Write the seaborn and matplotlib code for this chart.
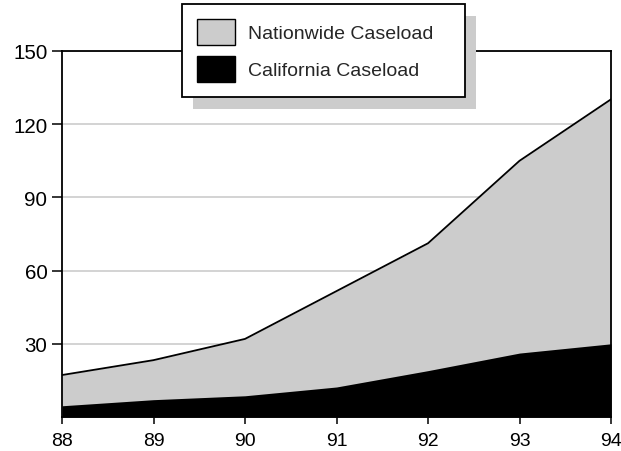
import matplotlib
matplotlib.use("Agg")
import matplotlib.pyplot as plt
from matplotlib.patches import Patch, Rectangle
import seaborn as sns
import pandas as pd

years = [88, 89, 90, 91, 92, 93, 94]
nationwide = [17.2, 23.3, 32.0, 51.6, 71.2, 105.0, 130.2]
california = [4.6, 7.1, 8.7, 12.3, 19.0, 26.2, 30.0]
ytick_values = [30, 60, 90, 120, 150]
series_labels = ["Nationwide Caseload", "California Caseload"]

df = pd.DataFrame({"year": years, "nationwide": nationwide, "california": california})

sns.set_style("white")
plt.rcParams["font.family"] = ["Liberation Sans", "DejaVu Sans"]

fig = plt.figure(figsize=(6.21, 4.52), dpi=100)
ax = fig.add_axes([62 / 621, 1 - 418 / 452, (611 - 62) / 621, (418 - 52) / 452])

ax.fill_between(df["year"], 0, df["nationwide"], color="#cccccc", linewidth=0, zorder=2)
sns.lineplot(data=df, x="year", y="nationwide", color="black", linewidth=1.3, ax=ax, zorder=3)
ax.fill_between(df["year"], 0, df["california"], color="black", linewidth=0, zorder=4)

ax.set_xlim(88, 94)
ax.set_ylim(0, 150)
ax.set_xticks(years)
ax.set_xticklabels([str(y) for y in years])
ax.set_yticks(ytick_values)
ax.set_yticklabels([str(v) for v in ytick_values])
ax.set_xlabel("")
ax.set_ylabel("")

ax.yaxis.grid(True, color="#cccccc", linewidth=1.2)
ax.xaxis.grid(False)
ax.set_axisbelow(True)

for s in ["left", "top", "right", "bottom"]:
    ax.spines[s].set_visible(True)
    ax.spines[s].set_color("black")
    ax.spines[s].set_linewidth(1.3)

ax.tick_params(axis="both", which="major", colors="black", width=1.1, direction="out")
ax.tick_params(axis="y", pad=3.5, length=7, left=True, labelsize=14.8)
ax.tick_params(axis="x", pad=5.5, length=5, bottom=True, labelsize=14)

# legend shadow and box
shadow = Rectangle((193 / 621, 1 - 110 / 452), 283 / 621, 93 / 452,
                   transform=fig.transFigure, facecolor="#cccccc", edgecolor="none", zorder=2)
box = Rectangle((182 / 621, 1 - 98 / 452), 283 / 621, 93 / 452,
                transform=fig.transFigure, facecolor="white", edgecolor="black",
                linewidth=1.3, zorder=3)
fig.add_artist(shadow)
fig.add_artist(box)

handles = [Patch(facecolor="#cccccc", edgecolor="black", linewidth=1.0),
           Patch(facecolor="black", edgecolor="black", linewidth=1.0)]
leg = fig.legend(handles, series_labels, loc="upper left",
                 bbox_to_anchor=(197 / 621, 1 - 20 / 452), frameon=False,
                 borderpad=0, borderaxespad=0, fontsize=14,
                 handlelength=1.95, handleheight=1.65, handletextpad=0.65,
                 labelspacing=0.6)
leg.set_zorder(5)

fig.savefig("out.png", dpi=100)
